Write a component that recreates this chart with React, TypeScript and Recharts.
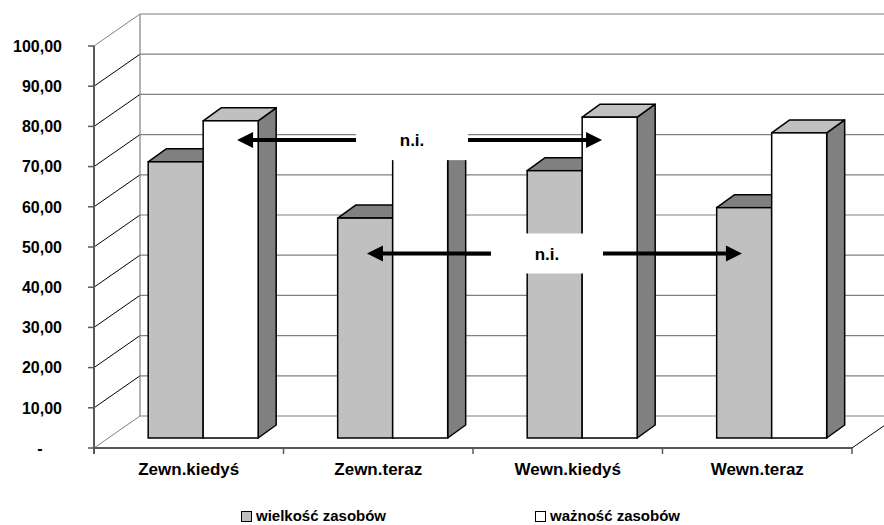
import React from 'react';
import { BarChart, Bar, XAxis, YAxis, CartesianGrid, ReferenceLine, Legend } from 'recharts';

// ---------- data ----------
const categories = ['Zewn.kiedyś', 'Zewn.teraz', 'Wewn.kiedyś', 'Wewn.teraz'];
const wielkoscZasobow = [68.7, 54.7, 66.5, 57.3];
const waznoscZasobow = [78.9, 74.0, 79.8, 75.9];
const seriesNames = ['wielkość zasobów', 'ważność zasobów'];
const yTicks = [0, 10, 20, 30, 40, 50, 60, 70, 80, 90, 100];
const yTickLabels = ['-', '10,00', '20,00', '30,00', '40,00', '50,00', '60,00', '70,00', '80,00', '90,00', '100,00'];
const annotationLabels = ['n.i.', 'n.i.'];
const annotationFrom = ['Zewn.kiedyś', 'Zewn.teraz'];
const annotationTo = ['Wewn.kiedyś', 'Wewn.teraz'];
const annotationSeries = ['waznosc', 'wielkosc'];
const annotationLevel = [74.1, 45.9];

const data = categories.map((c, i) => ({
  name: c,
  wielkosc: wielkoscZasobow[i],
  waznosc: waznoscZasobow[i],
}));

// ---------- layout / style ----------
const W = 884;
const H = 525;
const Y_AXIS_W = 60;
const PLOT_LEFT = 108;
const M_RIGHT = 18;
const M_TOP = 36;
const PLOT_BOTTOM = 438;
const X_AXIS_H = 40;
const PLOT_W = W - PLOT_LEFT - M_RIGHT;
const BAND = PLOT_W / categories.length;
const CAT_GAP = 0.212;
const BAR_W = (BAND * (1 - 2 * CAT_GAP)) / 2;

const FRONT_DX = -14;
const FRONT_DY = 10;
const BACK_DX = 32;
const BACK_DY = -22;
const DEPTH_X = 18;
const DEPTH_Y = 13;

const FONT = '"Liberation Sans", Arial, Helvetica, sans-serif';
const GRID_GRAY = '#808080';
const AXIS_GRAY = '#595959';
const SERIES_COLORS = ['#C0C0C0', '#FFFFFF'];

const make3D = (topFill: string, sideFill: string) => (p: any) => {
  const { x, y, width, height, fill } = p;
  if (width == null || height == null) return <g />;
  const x2 = x + width;
  const yb = y + height;
  return (
    <g>
      <polygon
        points={`${x2},${y} ${x2 + DEPTH_X},${y - DEPTH_Y} ${x2 + DEPTH_X},${yb - DEPTH_Y} ${x2},${yb}`}
        fill={sideFill}
        stroke="#000"
        strokeWidth={1.5}
        strokeLinejoin="round"
      />
      <polygon
        points={`${x},${y} ${x + DEPTH_X},${y - DEPTH_Y} ${x2 + DEPTH_X},${y - DEPTH_Y} ${x2},${y}`}
        fill={topFill}
        stroke="#000"
        strokeWidth={1.5}
        strokeLinejoin="round"
      />
      <rect x={x} y={y} width={width} height={height} fill={fill} stroke="#000" strokeWidth={1.5} />
    </g>
  );
};

const gridLine = (p: any) => {
  const { x1, x2, y1, index } = p;
  const top = p.y ?? M_TOP;
  const h = p.height ?? PLOT_BOTTOM - M_TOP;
  const isTop = Math.abs(y1 - top) < 0.5;
  const isBottom = Math.abs(y1 - (top + h)) < 0.5;
  const fx = x1 + FRONT_DX;
  const fy = y1 + FRONT_DY;
  const bx1 = x1 + BACK_DX;
  const bx2 = x2 + BACK_DX;
  const by = y1 + BACK_DY;
  const edge = isTop || isBottom;
  return (
    <g key={`hg-${index}`}>
      <line x1={bx1} y1={by} x2={bx2} y2={by} stroke={GRID_GRAY} strokeWidth={1.2} />
      <line x1={fx} y1={fy} x2={bx1} y2={by} stroke={edge ? GRID_GRAY : '#000'} strokeWidth={1} />
      <line x1={fx - 6} y1={fy} x2={fx} y2={fy} stroke={AXIS_GRAY} strokeWidth={1.5} />
      {isTop && <line x1={bx1} y1={by} x2={bx1} y2={by + h} stroke={GRID_GRAY} strokeWidth={1.2} />}
      {isTop && <line x1={fx} y1={fy} x2={fx} y2={fy + h + 6} stroke={AXIS_GRAY} strokeWidth={2} />}
      {isBottom && <line x1={fx} y1={fy} x2={x2 + FRONT_DX} y2={fy} stroke={AXIS_GRAY} strokeWidth={2} />}
      {isBottom && <line x1={x2 + FRONT_DX} y1={fy} x2={bx2} y2={by} stroke="#000" strokeWidth={1} />}
    </g>
  );
};

const YTick = (p: any) => {
  const { y, payload } = p;
  const idx = yTicks.indexOf(payload.value);
  const label = idx >= 0 ? yTickLabels[idx] : String(payload.value);
  const axisX = PLOT_LEFT + FRONT_DX;
  const isZero = payload.value === 0;
  return (
    <text
      x={isZero ? axisX - 54 : axisX - 32}
      y={y + FRONT_DY}
      dy="0.36em"
      textAnchor={isZero ? 'middle' : 'end'}
      fontFamily={FONT}
      fontWeight="bold"
      fontSize={16}
      fill="#000"
    >
      {label}
    </text>
  );
};

const XTick = (p: any) => {
  const { x, payload } = p;
  const fx = x + FRONT_DX;
  const floorY = PLOT_BOTTOM + FRONT_DY;
  return (
    <g>
      <line x1={fx + BAND / 2} y1={floorY} x2={fx + BAND / 2} y2={floorY + 6} stroke={AXIS_GRAY} strokeWidth={1.5} />
      <text x={fx} y={floorY + 27} textAnchor="middle" fontFamily={FONT} fontWeight="bold" fontSize={17} fill="#000">
        {payload.value}
      </text>
    </g>
  );
};

const makeAnnotation = (i: number) => (p: any) => {
  const { x1, x2, y1 } = p;
  if (x1 == null) return <g />;
  const off = annotationSeries[i] === 'waznosc' ? BAR_W / 2 : -BAR_W / 2;
  const inset = annotationSeries[i] === 'waznosc' ? 7 : 2;
  const lx = x1 + off + inset;
  const rx = x2 + off - inset;
  const y = y1;
  const HEAD = 16;
  const mid = (lx + rx) / 2 - 7.5;
  return (
    <g>
      <line x1={lx + HEAD - 1} y1={y} x2={rx - HEAD + 1} y2={y} stroke="#000" strokeWidth={4} />
      <polygon points={`${lx},${y} ${lx + HEAD},${y - 8} ${lx + HEAD},${y + 8}`} fill="#000" />
      <polygon points={`${rx},${y} ${rx - HEAD},${y - 8} ${rx - HEAD},${y + 8}`} fill="#000" />
      <rect x={mid - 56} y={y - 20} width={112} height={40} fill="#fff" />
      <text x={mid} y={y} dy="0.36em" textAnchor="middle" fontFamily={FONT} fontWeight="bold" fontSize={17} fill="#000">
        {annotationLabels[i]}
      </text>
    </g>
  );
};

const LEGEND_X = [241, 535];

const renderLegend = () => {
  return (
    <div style={{ position: 'relative', height: 20, width: W, fontFamily: FONT, fontWeight: 'bold', fontSize: 15 }}>
      {seriesNames.map((name, i) => (
        <div
          key={`lg-${i}`}
          style={{ position: 'absolute', left: LEGEND_X[i], top: 0, display: 'flex', alignItems: 'center', whiteSpace: 'nowrap', lineHeight: '20px' }}
        >
          <span
            style={{
              display: 'inline-block',
              width: 9,
              height: 9,
              border: '1px solid #000',
              background: SERIES_COLORS[i],
              marginRight: 4,
            }}
          />
          <span style={{ color: '#000' }}>{name}</span>
        </div>
      ))}
    </div>
  );
};

export default function App() {
  return (
    <div style={{ position: 'absolute', left: 0, top: 0, width: W, height: H, background: '#fff' }}>
      <BarChart
        width={W}
        height={H}
        data={data}
        margin={{ top: M_TOP, right: M_RIGHT, bottom: H - PLOT_BOTTOM - X_AXIS_H, left: PLOT_LEFT - Y_AXIS_W }}
        barCategoryGap={`${CAT_GAP * 100}%`}
        barGap={0}
      >
        <CartesianGrid horizontal={gridLine} vertical={false} />
        <XAxis dataKey="name" height={X_AXIS_H} axisLine={false} tickLine={false} tick={XTick} interval={0} />
        <YAxis
          width={Y_AXIS_W}
          domain={[0, 100]}
          ticks={yTicks}
          axisLine={false}
          tickLine={false}
          tick={YTick}
          interval={0}
        />
        <Bar
          dataKey="wielkosc"
          name={seriesNames[0]}
          fill={SERIES_COLORS[0]}
          isAnimationActive={false}
          shape={make3D('#808080', '#808080')}
        />
        <Bar
          dataKey="waznosc"
          name={seriesNames[1]}
          fill={SERIES_COLORS[1]}
          isAnimationActive={false}
          shape={make3D('#C0C0C0', '#808080')}
        />
        {annotationLabels.map((_, i) => (
          <ReferenceLine
            key={`ann-${i}`}
            segment={[
              { x: annotationFrom[i], y: annotationLevel[i] },
              { x: annotationTo[i], y: annotationLevel[i] },
            ]}
            shape={makeAnnotation(i)}
            ifOverflow="visible"
          />
        ))}
        <Legend
          layout="horizontal"
          verticalAlign="middle"
          align="center"
          content={renderLegend}
          wrapperStyle={{ top: 506, left: 0, width: W, height: 20 }}
        />
      </BarChart>
    </div>
  );
}
